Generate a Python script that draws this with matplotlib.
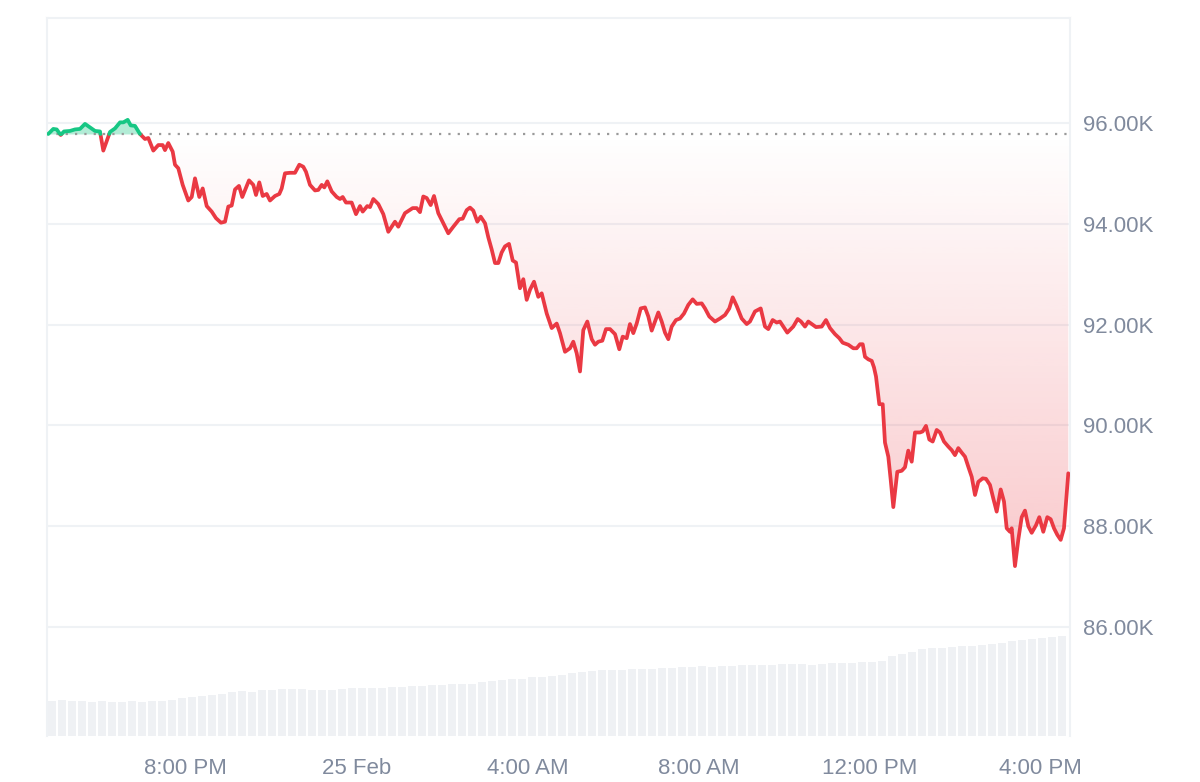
import numpy as np
import matplotlib
matplotlib.use("Agg")
import matplotlib.pyplot as plt
from matplotlib.path import Path
from matplotlib.patches import PathPatch

# hours since 16:45 on 24 Feb
HOURS = [
    0.03, 0.147, 0.227, 0.32, 0.398, 0.538, 0.655, 0.772, 0.889, 1.006,
    1.123, 1.24, 1.317, 1.434, 1.474, 1.591, 1.708, 1.785, 1.888, 1.958,
    2.058, 2.175, 2.292, 2.37, 2.487, 2.604, 2.706, 2.76, 2.837, 2.94,
    2.994, 3.071, 3.174, 3.305, 3.385, 3.462, 3.563, 3.642, 3.736, 3.853,
    3.953, 4.07, 4.164, 4.241, 4.32, 4.398, 4.491, 4.568, 4.725, 4.826,
    4.889, 4.966, 5.046, 5.139, 5.216, 5.333, 5.434, 5.49, 5.567, 5.684,
    5.801, 5.902, 5.995, 6.058, 6.152, 6.269, 6.346, 6.426, 6.487, 6.557,
    6.66, 6.777, 6.854, 6.917, 6.994, 7.127, 7.228, 7.322, 7.385, 7.492,
    7.556, 7.633, 7.75, 7.867, 7.984, 8.14, 8.218, 8.374, 8.554, 8.648,
    8.725, 8.802, 8.882, 8.975, 9.053, 9.153, 9.27, 9.387, 9.504, 9.645,
    9.724, 9.818, 9.895, 9.972, 10.066, 10.145, 10.246, 10.323, 10.402, 10.48,
    10.557, 10.636, 10.713, 10.807, 10.894, 10.971, 11.064, 11.142, 11.221, 11.298,
    11.392, 11.492, 11.572, 11.689, 11.806, 11.923, 12.0, 12.117, 12.234, 12.311,
    12.391, 12.468, 12.545, 12.639, 12.742, 12.819, 12.896, 12.99, 13.076, 13.17,
    13.287, 13.387, 13.467, 13.56, 13.637, 13.715, 13.794, 13.888, 13.988, 14.066,
    14.145, 14.222, 14.3, 14.379, 14.456, 14.534, 14.613, 14.713, 14.807, 14.901,
    15.001, 15.104, 15.198, 15.315, 15.392, 15.492, 15.626, 15.743, 15.86, 15.96,
    16.04, 16.133, 16.25, 16.367, 16.444, 16.561, 16.695, 16.795, 16.873, 16.975,
    17.069, 17.146, 17.317, 17.457, 17.56, 17.637, 17.731, 17.808, 17.988, 18.122,
    18.222, 18.316, 18.433, 18.533, 18.613, 18.744, 18.861, 18.94, 19.018, 19.081,
    19.135, 19.212, 19.292, 19.345, 19.392, 19.469, 19.549, 19.602, 19.68, 19.736,
    19.797, 19.89, 19.993, 20.07, 20.147, 20.227, 20.304, 20.421, 20.484, 20.561,
    20.639, 20.718, 20.812, 20.889, 20.982, 21.083, 21.162, 21.24, 21.317, 21.397,
    21.474, 21.551, 21.631, 21.708, 21.785, 21.888, 21.965, 22.058, 22.136, 22.215,
    22.309, 22.386, 22.449, 22.526, 22.566, 22.643, 22.72, 22.8, 22.877, 22.955,
    23.034, 23.135, 23.212, 23.305, 23.399, 23.478, 23.556, 23.633, 23.712, 23.789,
    23.89,
]

# price in thousands of USD
PRICE = [
    95.78, 95.88, 95.87, 95.76, 95.83, 95.84, 95.87, 95.88, 95.98, 95.91,
    95.84, 95.83, 95.45, 95.73, 95.82, 95.89, 96.01, 96.01, 96.06, 95.95,
    95.94, 95.78, 95.68, 95.70, 95.45, 95.56, 95.56, 95.46, 95.60, 95.43,
    95.17, 95.10, 94.77, 94.46, 94.53, 94.90, 94.53, 94.70, 94.35, 94.24,
    94.11, 94.02, 94.04, 94.34, 94.36, 94.68, 94.75, 94.53, 94.86, 94.77,
    94.57, 94.82, 94.55, 94.59, 94.46, 94.55, 94.59, 94.70, 95.00, 95.01,
    95.01, 95.17, 95.13, 95.03, 94.77, 94.66, 94.67, 94.77, 94.72, 94.84,
    94.64, 94.53, 94.49, 94.53, 94.42, 94.42, 94.19, 94.35, 94.24, 94.35,
    94.33, 94.49, 94.39, 94.19, 93.84, 94.04, 93.94, 94.21, 94.31, 94.31,
    94.23, 94.54, 94.51, 94.37, 94.55, 94.21, 94.01, 93.81, 93.94, 94.09,
    94.10, 94.27, 94.32, 94.26, 94.04, 94.14, 94.01, 93.73, 93.49, 93.22,
    93.22, 93.43, 93.55, 93.60, 93.27, 93.23, 92.72, 92.90, 92.49, 92.69,
    92.85, 92.55, 92.62, 92.22, 91.93, 92.02, 91.83, 91.46, 91.53, 91.66,
    91.43, 91.07, 91.89, 92.06, 91.71, 91.60, 91.66, 91.68, 91.91, 91.91,
    91.81, 91.51, 91.76, 91.73, 92.01, 91.83, 92.02, 92.32, 92.34, 92.16,
    91.88, 92.06, 92.24, 92.06, 91.84, 91.71, 91.96, 92.09, 92.12, 92.22,
    92.39, 92.50, 92.41, 92.42, 92.32, 92.16, 92.06, 92.12, 92.19, 92.32,
    92.54, 92.37, 92.12, 92.01, 92.06, 92.26, 92.32, 91.96, 91.91, 92.09,
    92.04, 92.06, 91.84, 91.96, 92.11, 92.06, 91.96, 92.06, 91.95, 91.96,
    92.09, 91.93, 91.81, 91.73, 91.64, 91.60, 91.53, 91.53, 91.61, 91.61,
    91.36, 91.31, 91.28, 91.15, 90.97, 90.42, 90.42, 89.66, 89.38, 88.92,
    88.38, 89.08, 89.10, 89.17, 89.50, 89.28, 89.86, 89.86, 89.88, 89.99,
    89.72, 89.68, 89.91, 89.86, 89.68, 89.58, 89.51, 89.41, 89.55, 89.46,
    89.38, 89.18, 88.98, 88.62, 88.88, 88.95, 88.94, 88.82, 88.55, 88.29,
    88.73, 88.49, 87.96, 87.89, 87.96, 87.21, 87.73, 88.18, 88.31, 88.00,
    87.87, 88.02, 88.18, 87.89, 88.18, 88.14, 87.96, 87.83, 87.73, 87.96,
    89.05,
]

OPEN_PRICE = 95.78

# volume bars (arbitrary units), one every ~14 min
VOLUME = [
    3.5, 3.6, 3.5, 3.5, 3.4, 3.5, 3.4, 3.4, 3.5, 3.4,
    3.5, 3.5, 3.6, 3.8, 3.9, 4.0, 4.1, 4.2, 4.4, 4.5,
    4.4, 4.6, 4.6, 4.7, 4.7, 4.7, 4.6, 4.6, 4.6, 4.7,
    4.8, 4.8, 4.8, 4.8, 4.9, 4.9, 5.0, 5.0, 5.1, 5.1,
    5.2, 5.2, 5.2, 5.4, 5.5, 5.6, 5.7, 5.7, 5.9, 5.9,
    6.0, 6.1, 6.3, 6.4, 6.5, 6.6, 6.6, 6.6, 6.7, 6.7,
    6.7, 6.8, 6.8, 6.9, 6.9, 7.0, 6.9, 7.0, 7.0, 7.1,
    7.1, 7.1, 7.1, 7.2, 7.2, 7.2, 7.1, 7.2, 7.3, 7.3,
    7.3, 7.4, 7.4, 7.5, 8.0, 8.2, 8.4, 8.7, 8.8, 8.8,
    8.9, 9.0, 9.0, 9.1, 9.2, 9.3, 9.5, 9.6, 9.7, 9.8,
    9.9, 10.0,
]

TICK_HOURS = [3.25, 7.25, 11.25, 15.25, 19.25, 23.25]
TICK_LABELS = ["8:00 PM", "25 Feb", "4:00 AM", "8:00 AM", "12:00 PM", "4:00 PM"]
PRICE_TICKS = [86, 88, 90, 92, 94, 96]

GREEN = "#16c784"
RED = "#ea3943"
GRID = "#eff2f5"
LABEL = "#808a9d"

plt.rcParams["font.family"] = ["Liberation Sans", "DejaVu Sans"]

t = np.array(HOURS)
p = np.array(PRICE)
base = OPEN_PRICE

# add the points where the line crosses the open price
ts, ps = [t[0]], [p[0]]
for i in range(1, len(t)):
    a, b = p[i - 1] - base, p[i] - base
    if a * b < 0:
        f = a / (a - b)
        ts.append(t[i - 1] + f * (t[i] - t[i - 1]))
        ps.append(base)
    ts.append(t[i])
    ps.append(p[i])
ts = np.array(ts)
ps = np.array(ps)

x_end = 23.93
y_lo, y_hi = 83.84, 98.08

fig = plt.figure(figsize=(12, 7.82), dpi=100)
ax = fig.add_axes([47 / 1200, 1 - 736 / 782, 1023 / 1200, 718 / 782])
ax2 = ax.twinx()

# volume bars in the background
step = 10 / 42.75
vol_t = 5 / 42.75 + step * np.arange(len(VOLUME))
ax2.bar(vol_t, VOLUME, width=step * 0.88, color="#eff1f4", linewidth=0)
ax2.set_ylim(0, 71.8)
ax2.set_yticks([])
for s in ax2.spines.values():
    s.set_visible(False)

ax.set_zorder(ax2.get_zorder() + 1)
ax.patch.set_visible(False)

ax.set_xlim(0, x_end)
ax.set_ylim(y_lo, y_hi)

# green area above open
ax.fill_between(ts, base, np.maximum(ps, base), color=GREEN, alpha=0.33,
                linewidth=0, zorder=2)

# red gradient area below open
below = np.minimum(ps, base)
verts = [(ts[0], base)] + list(zip(ts, below)) + [(ts[-1], base), (ts[0], base)]
clip = PathPatch(Path(verts), transform=ax.transData, facecolor="none",
                 edgecolor="none")
ax.add_patch(clip)
pmin = p.min()
n = 256
alpha = np.linspace(0.27, 0.0, n)[:, None]
rgb = matplotlib.colors.to_rgb(RED)
grad = np.zeros((n, 1, 4))
grad[..., 0], grad[..., 1], grad[..., 2] = rgb
grad[..., 3] = alpha
img = ax.imshow(grad, extent=[0, x_end, pmin, base], origin="lower",
                aspect="auto", zorder=2, interpolation="bilinear")
img.set_clip_path(clip)

ax.axhline(base, color="#9a9a9a", lw=1.6, ls=(0, (1, 3.2)), zorder=3)

ax.plot(ts, np.where(ps <= base, ps, np.nan), color=RED, lw=2.7,
        solid_joinstyle="round", solid_capstyle="round", zorder=4)
ax.plot(ts, np.where(ps >= base, ps, np.nan), color=GREEN, lw=2.7,
        solid_joinstyle="round", solid_capstyle="round", zorder=4)

ax.set_yticks(PRICE_TICKS)
ax.set_yticklabels([f"{v:.2f}K" for v in PRICE_TICKS])
ax.yaxis.tick_right()
ax.grid(axis="y", color=GRID, lw=1.5)
ax.set_axisbelow(True)
ax.set_xticks(TICK_HOURS)
ax.set_xticklabels(TICK_LABELS)
ax.tick_params(axis="y", length=0, pad=9, labelsize=16, labelcolor=LABEL)
ax.tick_params(axis="x", length=0, pad=16, labelsize=16, labelcolor=LABEL)

for side in ["left", "right", "top"]:
    ax.spines[side].set_color(GRID)
    ax.spines[side].set_linewidth(1.5)
ax.spines["bottom"].set_visible(False)

fig.savefig("out.png", dpi=100, facecolor="white")
